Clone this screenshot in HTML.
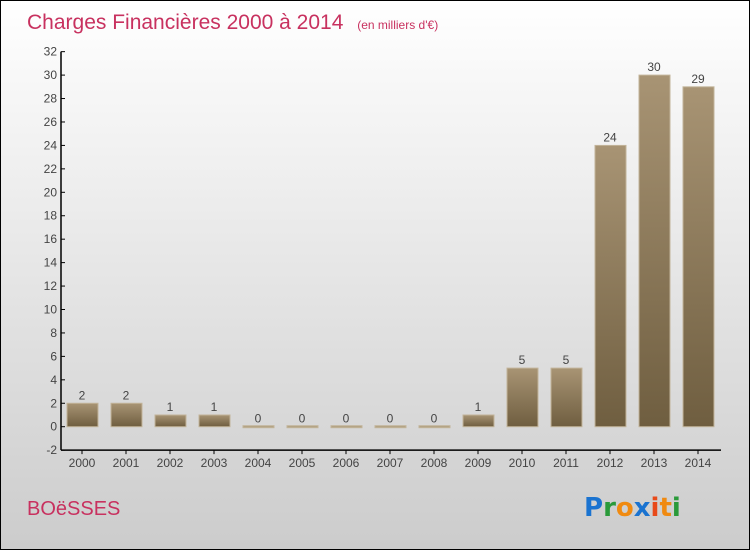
<!DOCTYPE html>
<html><head><meta charset="utf-8"><style>
body{margin:0}
#c{position:relative;width:748px;height:548px;border:1px solid #000;background:linear-gradient(#fff,#ccc);font-family:"Liberation Sans",sans-serif;overflow:hidden}
</style></head><body>
<div id="c">
<svg width="748" height="548" id="s">
<defs><linearGradient id="g" x1="0" y1="0" x2="0" y2="1"><stop offset="0" stop-color="#a89474"/><stop offset="1" stop-color="#6f5e40"/></linearGradient></defs>
<text x="26" y="28" font-size="21" fill="#c8315f">Charges Financières 2000 à 2014 <tspan font-size="12" dx="8">(en milliers d'€)</tspan></text>
<text x="26" y="514" font-size="20" fill="#c8315f">BOëSSES</text>
<g font-size="26" font-weight="bold" font-family="'DejaVu Sans',sans-serif">
<text x="583" y="515" fill="#1a73d0">P<tspan fill="#2a9a3a">r</tspan><tspan fill="#f08a10">o</tspan><tspan fill="#1a73d0">x</tspan><tspan fill="#e84a1a">i</tspan><tspan fill="#f08a10">t</tspan><tspan fill="#2a9a3a">i</tspan></text></g>
<g id="plot"></g>
</svg>
</div>
<script>
const categories=["2000","2001","2002","2003","2004","2005","2006","2007","2008","2009","2010","2011","2012","2013","2014"];
const values=[2,2,1,1,0,0,0,0,0,1,5,5,24,30,29];
const yTicks=[-2,0,2,4,6,8,10,12,14,16,18,20,22,24,26,28,30,32];
const ns="http://www.w3.org/2000/svg";
const g=document.getElementById('plot');
const y=v=>425.7-(v*11.72);
const x=i=>81+i*44;
function el(t,a,p){const e=document.createElementNS(ns,t);for(const k in a)e.setAttribute(k,a[k]);(p||g).appendChild(e);return e;}
const ax=el('line',{x1:60,y1:y(32),x2:60,y2:y(-2),stroke:'#000','stroke-width':1.5});


const bx=el('line',{x1:60,y1:y(-2),x2:720,y2:y(-2),stroke:'#000','stroke-width':1.5});


yTicks.forEach(t=>{
 el('line',{x1:60,x2:64,y1:y(t),y2:y(t),stroke:'#000'});
 const tx=el('text',{x:56,y:y(t)+4,'text-anchor':'end','font-size':12,fill:'#444'});tx.textContent=t;
 
 
});
categories.forEach((c,i)=>{
 el('line',{x1:x(i),x2:x(i),y1:y(-2),y2:y(-2)+4,stroke:'#000'});
 const tl=el('text',{x:x(i),y:466,'text-anchor':'middle','font-size':12,fill:'#444'});tl.textContent=c;
 
 
 const v=values[i];
 const h=Math.max(v*11.72,2);
 const r=el('rect',{x:x(i)-15,y:y(0)-h+(v===0?1:0),width:31,height:h,fill:v===0?'#b0a080':'url(#g)',stroke:'#c2b49a','stroke-width':1});
 
 
 const vl=el('text',{x:x(i),y:y(v)-4,'text-anchor':'middle','font-size':12,fill:'#444'});vl.textContent=v;
 
 
});
</script>
</body></html>
